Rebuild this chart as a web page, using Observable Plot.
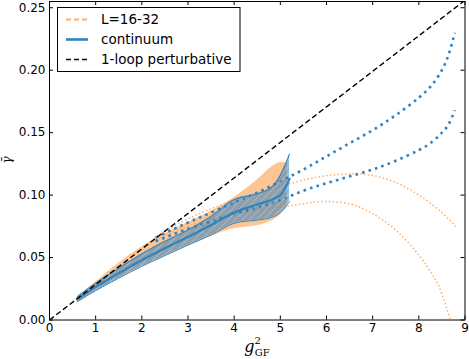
<!DOCTYPE html>
<html><head><meta charset="utf-8">
<script src="https://cdn.jsdelivr.net/npm/d3@7"></script>
<script src="https://cdn.jsdelivr.net/npm/@observablehq/plot@0.6"></script>
<style>
body{margin:0;background:#fff}
#chart{position:relative;width:469px;height:359px}
</style>
</head><body><div id="chart"></div>
<svg width="0" height="0" style="position:absolute">
  <defs>
    <pattern id="hatch" patternUnits="userSpaceOnUse" width="7" height="7">
      <path d="M-1,1 l2,-2 M0,7 l7,-7 M6,8 l2,-2" stroke="#ffffff" stroke-width="0.8" stroke-opacity="0.35"/>
    </pattern>
  </defs>
</svg>
<script>
// ---- tick values ----
const xTicks = [0, 1, 2, 3, 4, 5, 6, 7, 8, 9];
const yTicks = [0, 0.05, 0.10, 0.15, 0.20, 0.25];

// ---- continuum band (blue) ----
const gCont  = [0.6, 1.0, 1.5, 2.0, 2.5, 3.0, 3.5, 4.0, 4.5, 4.8, 5.0, 5.2];
const contMid = [0.0165, 0.0265, 0.0375, 0.0480, 0.0575, 0.0665, 0.0760, 0.0860, 0.0925, 0.0960, 0.1000, 0.1130];
const contLo  = [0.0145, 0.0235, 0.0335, 0.0430, 0.0515, 0.0600, 0.0680, 0.0775, 0.0800, 0.0820, 0.0860, 0.0950];
const contHi  = [0.0185, 0.0295, 0.0415, 0.0530, 0.0630, 0.0720, 0.0830, 0.0965, 0.1010, 0.1060, 0.1160, 0.1330];

// ---- L=16-32 band (orange) ----
const gL  = [0.6, 1.0, 1.5, 2.0, 2.5, 3.0, 3.5, 4.0, 4.5, 4.8, 5.0, 5.15];
const lHi = [0.0185, 0.0305, 0.0455, 0.0585, 0.0690, 0.0780, 0.0870, 0.0980, 0.1120, 0.1220, 0.1260, 0.1255];
const lLo = [0.0140, 0.0230, 0.0335, 0.0430, 0.0515, 0.0595, 0.0670, 0.0730, 0.0755, 0.0790, 0.0840, 0.0900];

// ---- orange dotted extrapolations ----
const gOrUp = [2.3, 2.6, 3.0, 3.5, 4.0, 4.5, 5.0, 5.5, 6.0, 6.5, 7.0, 7.5, 8.0, 8.5, 8.8];
const orUp  = [0.066, 0.073, 0.081, 0.089, 0.096, 0.102, 0.107, 0.112, 0.1155, 0.117, 0.1157, 0.110, 0.100, 0.086, 0.075];
const gOrLo = [2.3, 3.0, 3.5, 4.0, 4.5, 5.0, 5.5, 5.9, 6.5, 7.0, 7.5, 8.0, 8.3, 8.5, 8.68];
const orLo  = [0.064, 0.075, 0.081, 0.085, 0.088, 0.0905, 0.093, 0.0948, 0.093, 0.085, 0.072, 0.052, 0.036, 0.021, 0.0];

// ---- blue dotted extrapolations ----
const gBlUp = [2.3, 2.7, 3.0, 3.5, 4.0, 4.5, 5.0, 5.5, 6.0, 6.5, 7.0, 7.5, 8.0, 8.3, 8.5, 8.65, 8.78];
const blUp  = [0.066, 0.073, 0.078, 0.086, 0.094, 0.102, 0.111, 0.1205, 0.131, 0.1415, 0.152, 0.164, 0.178, 0.189, 0.200, 0.213, 0.230];
const gBlLo = [2.3, 3.0, 3.5, 4.0, 4.5, 5.0, 5.5, 6.0, 6.5, 7.0, 7.5, 8.0, 8.3, 8.5, 8.65, 8.78];
const blLo  = [0.063, 0.073, 0.079, 0.085, 0.090, 0.096, 0.1035, 0.1095, 0.115, 0.1205, 0.1275, 0.136, 0.143, 0.150, 0.157, 0.168];

// ---- 1-loop perturbative ----
const gPert = [0, 9];
const pert  = [0, 0.256];

const BLUE = "#3182bd", ORANGE = "#fdae6b";

const zip = (xs, ...cols) => xs.map((x, i) => ({x, ...Object.fromEntries(cols.map((c, j) => ["v" + j, c[i]]))}));
const contData = zip(gCont, contLo, contMid, contHi);
const lData = zip(gL, lLo, lHi);
const pts = (xs, ys) => xs.map((x, i) => ({x, y: ys[i]}));

const W = 469, H = 359, mL = 49, mR = 4.5, mT = 1, mB = 39.5;
const fw = W - mL - mR, fh = H - mT - mB, tk = 4;
const curve = "catmull-rom";
const dotO = {stroke: ORANGE, strokeWidth: 1.5, strokeDasharray: "1.5,2.3", strokeLinecap: "butt", curve: "natural", clip: true};
const dotB = {stroke: BLUE, strokeWidth: 2.6, strokeDasharray: "2.6,4.2", strokeLinecap: "butt", curve: "natural", clip: true};

const plot = Plot.plot({
  width: W, height: H,
  marginLeft: mL, marginRight: mR, marginTop: mT, marginBottom: mB,
  x: {domain: [0, 9]},
  y: {domain: [0, 0.255]},
  style: {fontFamily: "DejaVu Sans, sans-serif", fontSize: "12px", color: "black", background: "white", overflow: "visible"},
  marks: [
    Plot.areaY(lData, {x: "x", y1: "v0", y2: "v1", fill: ORANGE, fillOpacity: 0.72, curve}),
    Plot.line(pts(gOrUp, orUp), {x: "x", y: "y", ...dotO}),
    Plot.line(pts(gOrLo, orLo), {x: "x", y: "y", ...dotO}),
    Plot.line(pts(gBlUp, blUp), {x: "x", y: "y", ...dotB}),
    Plot.line(pts(gBlLo, blLo), {x: "x", y: "y", ...dotB}),
    Plot.areaY(contData, {x: "x", y1: "v0", y2: "v2", fill: BLUE, fillOpacity: 0.55, curve}),
    Plot.areaY(contData, {x: "x", y1: "v0", y2: "v2", fill: "url(#hatch)", curve}),
    Plot.line(contData, {x: "x", y: "v0", stroke: BLUE, strokeWidth: 1, curve}),
    Plot.line(contData, {x: "x", y: "v2", stroke: BLUE, strokeWidth: 1, curve}),
    Plot.line(contData, {x: "x", y: "v1", stroke: BLUE, strokeWidth: 2.2, curve}),
    Plot.line(pts(gPert, pert), {x: "x", y: "y", stroke: "black", strokeWidth: 1.4, strokeDasharray: "5.5,3", strokeLinecap: "butt", clip: true}),
    Plot.frame({stroke: "black", strokeWidth: 1}),
    Plot.tickX(xTicks, {x: d => d, insetTop: fh - tk, stroke: "black"}),
    Plot.tickX(xTicks, {x: d => d, insetBottom: fh - tk, stroke: "black"}),
    Plot.tickY(yTicks, {y: d => d, insetRight: fw - tk, stroke: "black"}),
    Plot.tickY(yTicks, {y: d => d, insetLeft: fw - tk, stroke: "black"}),
    Plot.axisX({ticks: xTicks, tickSize: 0, tickPadding: 3, tickFormat: d => String(d), label: null, fontSize: 12}),
    Plot.axisY({ticks: yTicks, tickSize: 0, tickPadding: 4, tickFormat: d3.format(".2f"), label: null, fontSize: 12})
  ]
});

document.getElementById("chart").appendChild(plot);
const svg = d3.select(plot);

// axis titles
const xl = svg.append("text").attr("x", 257).attr("y", 352).attr("text-anchor", "middle")
  .attr("font-family", "DejaVu Serif, serif").attr("fill", "black");
xl.append("tspan").attr("font-style", "italic").attr("font-size", 16).text("g");
xl.append("tspan").attr("font-size", 10).attr("dy", -8).text("2");
xl.append("tspan").attr("font-size", 10).attr("dx", -6).attr("dy", 12).text("GF");

svg.append("text").attr("transform", "translate(11,160) rotate(-90)").attr("text-anchor", "middle")
  .attr("font-family", "DejaVu Serif, serif").attr("font-style", "italic").attr("font-size", 12)
  .attr("fill", "black").text("\u03B3\u0304");

// legend
const lg = svg.append("g").attr("text-anchor", "start");
lg.append("rect").attr("x", 57.5).attr("y", 7.5).attr("width", 182.5).attr("height", 64)
  .attr("fill", "white").attr("stroke", "black").attr("stroke-width", 1);
const entries = [
  {label: "L=16-32", stroke: ORANGE, width: 2.2, dash: "5,3"},
  {label: "continuum", stroke: BLUE, width: 2.6, dash: null},
  {label: "1-loop perturbative", stroke: "black", width: 1.3, dash: "5,3"}
];
entries.forEach((e, i) => {
  const cy = 19.5 + i * 20;
  const ln = lg.append("line").attr("x1", 66).attr("x2", 88).attr("y1", cy).attr("y2", cy)
    .attr("stroke", e.stroke).attr("stroke-width", e.width);
  if (e.dash) ln.attr("stroke-dasharray", e.dash);
  lg.append("text").attr("x", 101).attr("y", cy + 4.8).attr("text-anchor", "start")
    .attr("font-family", "DejaVu Sans, sans-serif")
    .attr("font-size", 13.5).attr("fill", "black").text(e.label);
});
</script>
</body></html>
